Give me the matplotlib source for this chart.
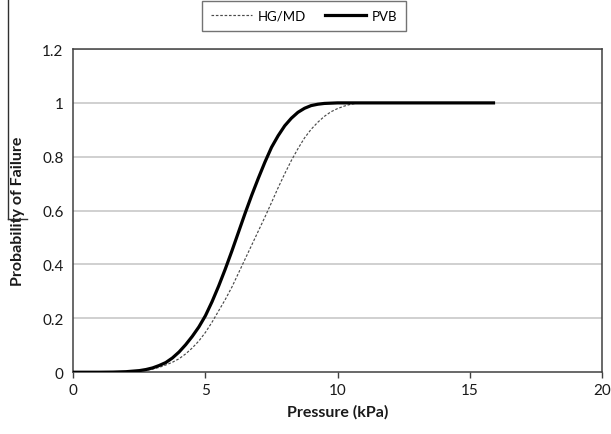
import matplotlib
matplotlib.use("Agg")
import matplotlib.pyplot as plt
from matplotlib.lines import Line2D

plt.rcParams['font.family'] = ['Lato', 'DejaVu Sans']

# 読み取った値 (圧力 kPa, 破壊確率)
p_pvb = [0, 1.0, 1.5, 2.0, 2.25, 2.5, 2.75, 3.0, 3.25, 3.5, 3.75, 4.0, 4.25, 4.5, 4.75,
         5.0, 5.25, 5.5, 5.75, 6.0, 6.25, 6.5, 6.75, 7.0, 7.25, 7.5, 7.75, 8.0,
         8.25, 8.5, 8.75, 9.0, 9.25, 9.5, 9.75, 10.0, 12.0, 14.0, 15.9]
pf_pvb = [0, 0, 0.0005, 0.002, 0.004, 0.006, 0.010, 0.016, 0.025, 0.036, 0.053, 0.075,
          0.102, 0.133, 0.168, 0.21, 0.262, 0.32, 0.383, 0.45, 0.52, 0.59, 0.657,
          0.72, 0.78, 0.835, 0.878, 0.915, 0.943, 0.965, 0.98, 0.99, 0.995, 0.998,
          0.999, 1.0, 1.0, 1.0, 1.0]

p_hg = [0, 1.0, 1.5, 2.0, 2.5, 2.75, 3.0, 3.25, 3.5, 3.75, 4.0, 4.25, 4.5, 4.75, 5.0,
        5.25, 5.5, 5.75, 6.0, 6.25, 6.5, 6.75, 7.0, 7.25, 7.5, 7.75, 8.0, 8.25,
        8.5, 8.75, 9.0, 9.25, 9.5, 9.75, 10.0, 10.25, 10.5, 10.75, 11.0, 13.0, 15.9]
pf_hg = [0, 0, 0.0003, 0.001, 0.004, 0.007, 0.012, 0.018, 0.027, 0.037, 0.05, 0.068,
         0.09, 0.116, 0.148, 0.186, 0.228, 0.27, 0.316, 0.368, 0.42, 0.472, 0.524,
         0.576, 0.63, 0.685, 0.737, 0.786, 0.83, 0.87, 0.902, 0.928, 0.95, 0.967,
         0.979, 0.988, 0.995, 0.999, 1.0, 1.0, 1.0]

x_ticks = [0, 5, 10, 15, 20]
y_ticks = [0, 0.2, 0.4, 0.6, 0.8, 1, 1.2]
y_labels = ["0", "0.2", "0.4", "0.6", "0.8", "1", "1.2"]

fig = plt.figure(figsize=(6.11, 4.35), dpi=100)
ax = fig.add_axes([0.12, 0.142, 0.865, 0.743])

for y in y_ticks[1:]:
    ax.axhline(y, color="#c4c4c4", linewidth=1.1, zorder=1)

ax.plot(p_hg, pf_hg, color="#4a4a4a", linewidth=0.85, linestyle=(0, (2.2, 1.5)),
        label="HG/MD", zorder=3)
ax.plot(p_pvb, pf_pvb, color="black", linewidth=2.3, label="PVB", zorder=4)

ax.set_xlim(0, 20)
ax.set_ylim(0, 1.2)
ax.set_xticks(x_ticks)
ax.set_yticks(y_ticks)
ax.set_yticklabels(y_labels)
ax.tick_params(axis="x", direction="out", length=4, width=1, color="#404040",
               labelsize=11, labelcolor="#1a1a1a", pad=4)
ax.tick_params(axis="y", length=0, labelsize=11, labelcolor="#1a1a1a", pad=7)
for s in ax.spines.values():
    s.set_color("#404040")
    s.set_linewidth(1.1)

ax.set_xlabel("Pressure (kPa)", fontsize=11.5, fontweight="bold", color="#1a1a1a",
              labelpad=5)
ax.set_ylabel("Probability of Failure", fontsize=11.5, fontweight="bold",
              color="#1a1a1a")
ax.yaxis.set_label_coords(-0.092, 0.5)

leg = fig.legend(loc="lower left", bbox_to_anchor=(202 / 611, 1 - 32 / 435),
                 ncol=2, fontsize=9.5, frameon=True, fancybox=False,
                 handlelength=3.1, handletextpad=0.4, columnspacing=1.5,
                 borderpad=0.7, borderaxespad=0)
leg.get_frame().set_edgecolor("#505050")
leg.get_frame().set_linewidth(1.0)

# 元画像左側の縦線
fig.add_artist(Line2D([8 / 611, 8 / 611], [1.0, 1 - 220 / 435], color="#303030",
                      linewidth=1.0))
fig.add_artist(Line2D([8 / 611, 27 / 611], [1 - 220 / 435, 1 - 220 / 435],
                      color="#303030", linewidth=1.0))

fig.savefig("out.png", dpi=100)
